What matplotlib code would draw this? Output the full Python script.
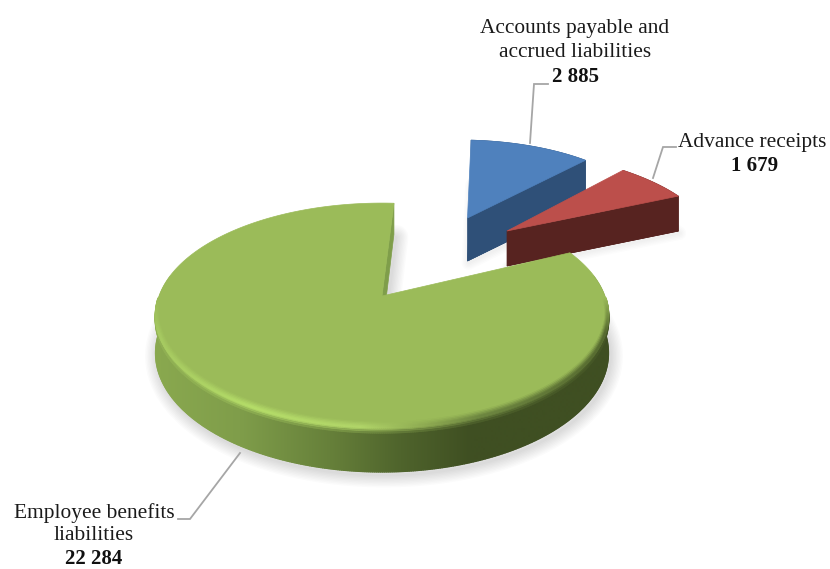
import numpy as np
import matplotlib
matplotlib.use("Agg")
import matplotlib.pyplot as plt
from matplotlib.collections import LineCollection
from matplotlib.colors import to_rgb
from matplotlib.patches import Polygon

categories = ["Accounts payable and\naccrued liabilities", "Advance receipts", "Employee benefits\nliabilities"]
values = [2885, 1679, 22284]
value_labels = ["2 885", "1 679", "22 284"]

START_ANGLE = 3.6
FONT = "Liberation Serif"

# Slice geometry: origin, x scale, y scale, x shear, perspective, depth
SLICE_SHAPE = [
    dict(ox=467.5, oy=218, sx=184, sy=78, shear=8, persp=0.0, depth=43),
    dict(ox=507, oy=231, sx=202, sy=82, shear=27, persp=0.0, depth=35),
    dict(ox=382, oy=296, sx=223, sy=109, shear=0, persp=0.173, depth=36.5),
]
TOP_COLORS = ["#4f81bd", "#bc4f4b", "#9bbb59"]
SIDE_COLORS = ["#2f5078", "#572320", "#7f9e4a"]

# Side shading of the large slice, running left to right across the figure
SIDE_X = [153, 240, 330, 400, 470, 610]
SIDE_RAMP = ["#8aa94f", "#7f9d4a", "#66803a", "#4f642c", "#3f4f22", "#3f4f22"]
RIM_X = [153, 250, 360, 430, 480, 610]
RIM_RAMP = ["#a5c860", "#b4dc68", "#b0d468", "#8ba750", "#6d8640", "#55692f"]


def ramp(x, stops, colors):
    rgb = np.array([to_rgb(c) for c in colors])
    return np.column_stack([np.interp(x, stops, rgb[:, i]) for i in range(3)])


def project(shape, u, v, drop=0.0):
    """Map disc coordinates (v towards the viewer) to figure pixels."""
    u, v = np.asarray(u, float), np.asarray(v, float)
    w = 1 - shape["persp"] * v
    x = shape["ox"] + (shape["sx"] * u + shape["shear"] * v) / w
    y = shape["oy"] + (shape["sy"] * v + drop * shape["depth"]) / w
    return np.column_stack([x, y])


def disc(angles_deg, rho=1.0):
    a = np.radians(angles_deg)
    return rho * np.sin(a), -rho * np.cos(a)


def soft_shadow(ax, pts, zorder, strength=0.012, reach=16):
    for lw in np.arange(reach, 0, -2):
        ax.add_patch(Polygon(pts, closed=True, facecolor="none", edgecolor="black",
                             alpha=strength, lw=lw, joinstyle="round", zorder=zorder))


def edge_line(ax, pts, colors, lw, zorder, keep=None):
    segs = np.stack([pts[:-1], pts[1:]], axis=1)
    if keep is not None:
        segs, colors = segs[keep], colors[keep]
    ax.add_collection(LineCollection(segs, colors=colors, linewidths=lw,
                                     capstyle="round", zorder=zorder))


fig = plt.figure(figsize=(8.30, 5.69), dpi=100)
ax = fig.add_axes([0, 0, 1, 1])

sweeps = np.array(values) / np.sum(values) * 360
edges = START_ANGLE + np.concatenate([[0], np.cumsum(sweeps)])

# The two pulled-out slices: arc side, cut face, then the top
for i in (0, 1):
    shape = SLICE_SHAPE[i]
    ang = np.linspace(edges[i], edges[i + 1], 60)
    u, v = disc(ang)
    top = np.vstack([project(shape, 0, 0, 0).reshape(1, 2), project(shape, u, v)])
    low = np.vstack([project(shape, 0, 0, 1).reshape(1, 2), project(shape, u, v, 1)])
    soft_shadow(ax, low + [1, 2], 1, strength=0.01, reach=10)
    z = 2 + i
    color = SIDE_COLORS[i]
    ax.add_patch(Polygon(low, closed=True, fc=color, ec=color, lw=0.5, zorder=z))
    face = np.vstack([top[:1], top[-1:], low[-1:], low[:1]])
    ax.add_patch(Polygon(face, closed=True, fc=color, ec=color, lw=0.5, zorder=z))
    arc_face = np.vstack([top[1:], low[1:][::-1]])
    ax.add_patch(Polygon(arc_face, closed=True, fc=color, ec=color, lw=0.5, zorder=z))
    ax.add_patch(Polygon(top, closed=True, fc=TOP_COLORS[i], ec=TOP_COLORS[i], lw=0.5, zorder=z + 0.1))

# The large slice
shape = SLICE_SHAPE[2]
ang = np.linspace(edges[2], edges[3], 720)
u, v = disc(ang)
edge_top = project(shape, u, v)
edge_low = project(shape, u, v, 1)
apex_top = project(shape, 0, 0).reshape(1, 2)
apex_low = project(shape, 0, 0, 1).reshape(1, 2)

soft_shadow(ax, np.vstack([apex_low, edge_low]) + [2, 3], 0.5, strength=0.016, reach=18)

# Side wall as a horizontal gradient clipped to the wall's outline
grad_x = np.linspace(140, 620, 480)
wall = ax.imshow(ramp(grad_x, SIDE_X, SIDE_RAMP)[None, :, :], extent=(140, 620, 569, 0),
                 aspect="auto", interpolation="bilinear", zorder=4)
front = v > -0.2
wall_outline = Polygon(np.vstack([edge_top[front], edge_low[front][::-1]]), closed=True,
                       transform=ax.transData)
wall.set_clip_path(wall_outline)
mid_x = 0.5 * (edge_low[:-1, 0] + edge_low[1:, 0])
mid_v = 0.5 * (v[:-1] + v[1:])
side = ramp(mid_x, SIDE_X, SIDE_RAMP)
edge_line(ax, edge_low, side, 1.0, 4.2, keep=mid_v > -0.2)

start_face = np.vstack([edge_top[-1:], edge_low[-1:], apex_low, apex_top])
ax.add_patch(Polygon(start_face, closed=True, fc=SIDE_COLORS[2], ec=SIDE_COLORS[2], lw=0.5, zorder=4.3))
ax.add_patch(Polygon(np.vstack([apex_top, edge_top]), closed=True, fc=TOP_COLORS[2],
                     ec=TOP_COLORS[2], lw=0.5, zorder=5))

# Rounded bevel along the near edge of the top face
top_rgb = np.array(to_rgb(TOP_COLORS[2]))
fade = np.clip((mid_v - 0.02) / 0.3, 0, 1)[:, None]
near = mid_v > 0.02
rim = ramp(mid_x, RIM_X, RIM_RAMP)
for inset, mix in [(1.0, 0.15), (0.75, 0.4), (0.5, 0.65), (0.25, 0.88), (0.05, 1.0)]:
    uu, vv = disc(ang, 1 - 0.012 * inset)
    pts = project(shape, uu, vv) - np.column_stack([np.zeros_like(vv), 3.5 * inset * np.clip(vv / 0.3, 0, 1)])
    blend = top_rgb * (1 - fade) + (top_rgb * (1 - mix) + rim * mix) * fade
    edge_line(ax, pts, blend, 1.5, 6, keep=near)
for drop, mix in [(0.03, 0.85), (0.07, 0.55), (0.11, 0.25)]:
    edge_line(ax, project(shape, u, v, drop), side * (1 - mix) + rim * mix, 1.4, 4.5, keep=near)

# Labels and their leader lines
leaders = [
    ([530, 534, 548], [143, 84, 84]),
    ([653, 663, 676], [178, 147, 147]),
    ([240, 190, 178], [453, 519, 519]),
]
for xs, ys in leaders:
    ax.plot(xs, ys, color="#a6a6a6", lw=1.3, zorder=7, solid_joinstyle="miter")

label_x = [575, 752, 94]
label_y = [28, 142, 513]
value_x = [575, 755, 94]
LINE_STEP = [24.4, 24.4, 22.8]
for i, text in enumerate(categories):
    lines = text.split("\n")
    for j, line in enumerate(lines):
        ax.text(label_x[i], label_y[i] + j * LINE_STEP[i], line, family=FONT, fontsize=15.4,
                color="#1a1a1a", ha="center", va="center", zorder=8)
    ax.text(value_x[i], label_y[i] + len(lines) * LINE_STEP[i], value_labels[i], family=FONT,
            fontsize=15.0, fontweight="bold", color="#111111", ha="center", va="center", zorder=8)

ax.set_xlim(0, 830)
ax.set_ylim(569, 0)
ax.axis("off")

fig.savefig("out.png", dpi=100)
